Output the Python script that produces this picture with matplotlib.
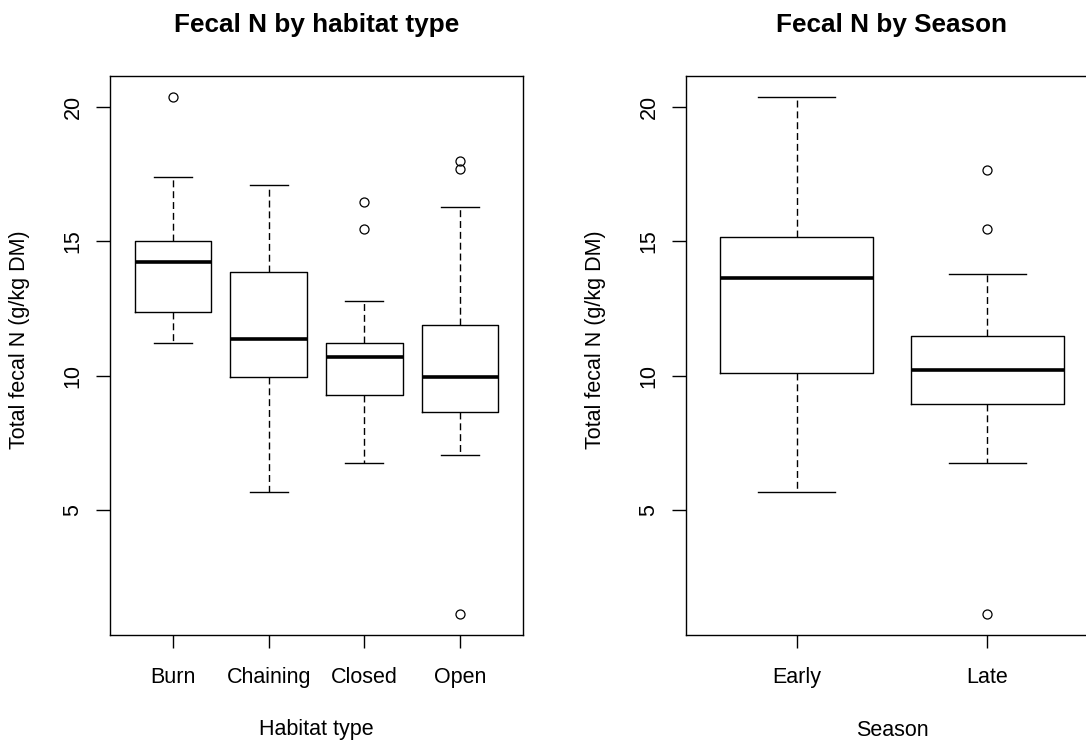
import matplotlib
matplotlib.use("Agg")
import matplotlib.pyplot as plt

plt.rcParams["font.family"] = ["Liberation Sans", "DejaVu Sans"]

# ── 生息地タイプ別の箱ひげ図統計量 ──
HABITAT_LABELS = ["Burn", "Chaining", "Closed", "Open"]
HABITAT_WLO = [11.22, 5.66, 6.74, 7.05]
HABITAT_Q1 = [12.36, 9.95, 9.29, 8.63]
HABITAT_MED = [14.24, 11.35, 10.68, 9.95]
HABITAT_Q3 = [15.01, 13.84, 11.22, 11.89]
HABITAT_WHI = [17.40, 17.09, 12.78, 16.28]
HABITAT_FLIERS = [[20.37], [], [16.48, 15.45], [17.98, 17.69, 1.12]]

# ── 季節別 ──
SEASON_LABELS = ["Early", "Late"]
SEASON_WLO = [5.66, 6.74]
SEASON_Q1 = [10.11, 8.93]
SEASON_MED = [13.62, 10.21]
SEASON_Q3 = [15.16, 11.49]
SEASON_WHI = [20.37, 13.78]
SEASON_FLIERS = [[], [17.66, 15.47, 1.12]]

Y_TICKS = [5, 10, 15, 20]
YLIM = (0.34, 21.15)

W, H = 1086, 740
BASE_FS = 15.5
TITLE_FS = 18.8


def make_stats(labels, wlo, q1, med, q3, whi, fliers):
    return [
        {"label": l, "whislo": a, "q1": b, "med": c, "q3": d, "whishi": e, "fliers": f}
        for l, a, b, c, d, e, f in zip(labels, wlo, q1, med, q3, whi, fliers)
    ]


def draw_panel(fig, left_px, width_px, stats, title, xlabel, clipped_right=False):
    top_px, bottom_px = 76, 635.3
    ax = fig.add_axes([left_px / W, 1 - bottom_px / H, width_px / W, (bottom_px - top_px) / H])
    n = len(stats)
    ax.bxp(
        stats,
        positions=range(1, n + 1),
        widths=0.8,
        capwidths=0.4,
        boxprops=dict(color="black", linewidth=1.0),
        whiskerprops=dict(color="black", linewidth=1.0, linestyle=(0, (5, 2.8))),
        capprops=dict(color="black", linewidth=1.0),
        medianprops=dict(color="black", linewidth=2.6, solid_capstyle="butt"),
        flierprops=dict(marker="o", markerfacecolor="none", markeredgecolor="black",
                        markersize=6.5, markeredgewidth=0.9, linestyle="none"),
    )
    # R の軸範囲 (4% 拡張)
    span = n
    ax.set_xlim(0.5 - 0.04 * span, n + 0.5 + 0.04 * span)
    ax.set_ylim(*YLIM)
    ax.set_yticks(Y_TICKS)
    ax.set_yticklabels([str(t) for t in Y_TICKS], rotation=90, va="center", fontsize=BASE_FS)
    ax.set_xticks(range(1, n + 1))
    ax.set_xticklabels([s["label"] for s in stats], fontsize=BASE_FS)
    ax.tick_params(axis="y", length=10, width=1.0, pad=9)
    ax.tick_params(axis="x", length=9.5, width=1.0, pad=13.5)
    for sp in ax.spines.values():
        sp.set_linewidth(1.0)
        sp.set_color("black")
    if clipped_right:
        # 元画像では右端が切れている
        ax.spines["right"].set_visible(False)

    cx = (left_px + width_px / 2) / W
    fig.text(cx, 1 - 25 / H, title, ha="center", va="center",
             fontsize=TITLE_FS, fontweight="bold")
    fig.text(cx, 1 - 730 / H, xlabel, ha="center", va="center", fontsize=BASE_FS)
    fig.text((left_px - 90) / W, 1 - 340 / H, "Total fecal N (g/kg DM)",
             ha="center", va="center", rotation=90, fontsize=BASE_FS)
    return ax


fig = plt.figure(figsize=(W / 100, H / 100), dpi=100)

habitat_stats = make_stats(HABITAT_LABELS, HABITAT_WLO, HABITAT_Q1, HABITAT_MED,
                           HABITAT_Q3, HABITAT_WHI, HABITAT_FLIERS)
season_stats = make_stats(SEASON_LABELS, SEASON_WLO, SEASON_Q1, SEASON_MED,
                          SEASON_Q3, SEASON_WHI, SEASON_FLIERS)

draw_panel(fig, 110, 413, habitat_stats, "Fecal N by habitat type", "Habitat type")
draw_panel(fig, 686, 412, season_stats, "Fecal N by Season", "Season", clipped_right=True)

fig.savefig("out.png", dpi=100)
